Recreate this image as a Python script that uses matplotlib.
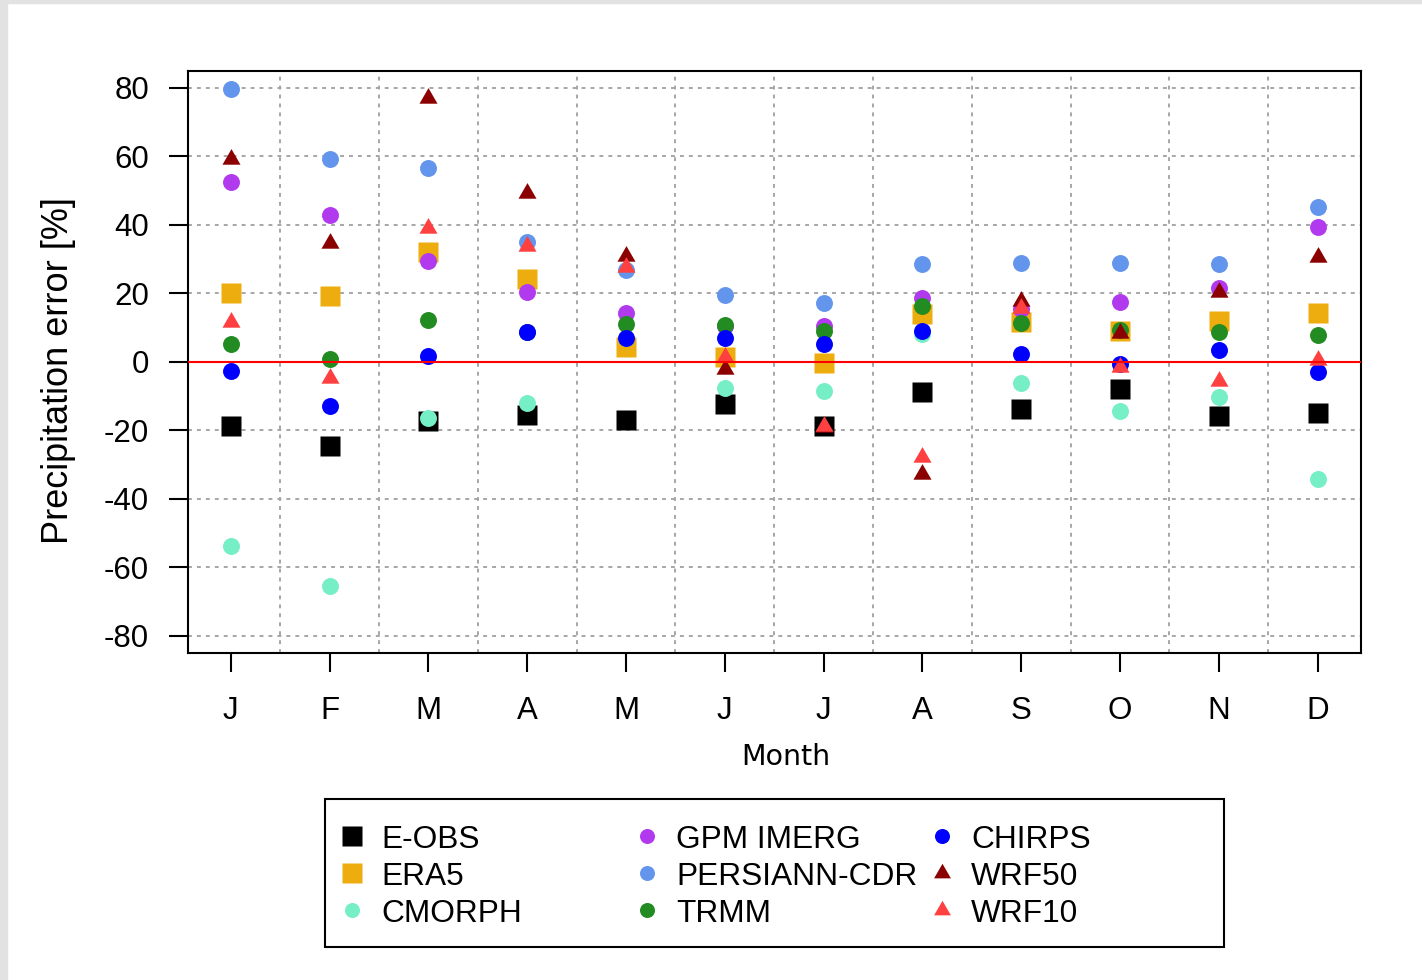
import numpy as np
import matplotlib.pyplot as plt
from matplotlib.patches import Rectangle

plt.rcParams['font.family'] = ['Liberation Sans', 'DejaVu Sans']
plt.rcParams['axes.unicode_minus'] = False

# monthly precipitation error [%] of each product, Jan..Dec
months = ['J', 'F', 'M', 'A', 'M', 'J', 'J', 'A', 'S', 'O', 'N', 'D']

eobs = [-18.8, -24.7, -17.4, -15.6, -17.0, -12.3, -18.7, -8.8, -13.9, -7.9, -15.8, -14.8]
era5 = [20.1, 19.1, 32.0, 24.3, 4.4, 1.3, -0.2, 14.0, 11.5, 9.1, 12.0, 14.4]
cmorph = [-53.8, -65.4, -16.5, -11.9, 7.0, -7.5, -8.5, 8.0, -6.3, -14.3, -10.4, -34.1]
gpm = [52.6, 42.9, 29.5, 20.4, 14.4, 10.5, 10.5, 18.7, 15.5, 17.6, 21.7, 39.5]
persiann = [79.7, 59.2, 56.5, 35.0, 26.9, 19.6, 17.3, 28.5, 28.9, 29.0, 28.5, 45.3]
trmm = [5.3, 0.8, 12.1, 8.8, 11.1, 10.8, 9.1, 16.4, 11.4, 9.3, 8.8, 7.9]
chirps = [-2.6, -12.8, 1.7, 8.7, 7.0, 7.1, 5.2, 9.1, 2.4, -0.5, 3.5, -2.9]
wrf50 = [59.3, 34.8, 76.9, 49.3, 30.8, -2.2, -19.0, -32.6, 17.7, 8.5, 20.3, 30.6]
wrf10 = [11.7, -4.7, 39.1, 33.8, 27.7, 1.4, -18.8, -27.7, 15.6, -1.5, -5.5, 0.5]

names = ['E-OBS', 'ERA5', 'CMORPH', 'GPM IMERG', 'PERSIANN-CDR', 'TRMM', 'CHIRPS', 'WRF50', 'WRF10']
series = [eobs, era5, cmorph, gpm, persiann, trmm, chirps, wrf50, wrf10]

# equilateral triangle centred on its centroid
tri = [(0, 1), (-0.866, -0.5), (0.866, -0.5)]

styles = {
    'E-OBS': ('s', '#000000', 14.8),
    'ERA5': ('s', '#EEAD0E', 14.8),
    'CMORPH': ('o', '#76EEC6', 12.2),
    'GPM IMERG': ('o', '#B23AEE', 12.2),
    'PERSIANN-CDR': ('o', '#6495ED', 12.2),
    'TRMM': ('o', '#228B22', 12.2),
    'CHIRPS': ('o', '#0000FF', 12.2),
    'WRF50': (tri, '#8B0000', 15.0),
    'WRF10': (tri, '#FF4040', 15.0),
}

W, H = 1422, 980
fig = plt.figure(figsize=(W / 100, H / 100), dpi=100)

# thin grey edge along the top and left side
fig.patches.append(Rectangle((0, 1 - 3 / H), 1, 3 / H, transform=fig.transFigure,
                             color='#e2e2e2', zorder=0))
fig.patches.append(Rectangle((0, 0), 7 / W, 1, transform=fig.transFigure,
                             color='#e2e2e2', zorder=0))

ax = fig.add_axes([187.7 / W, 1 - 652.7 / H, (1360.7 - 187.7) / W, (652.7 - 71) / H])

x = np.arange(1, 13)
for name, vals in zip(names, series):
    mk, col, ms = styles[name]
    ax.plot(x, vals, linestyle='none', marker=mk, ms=ms, color=col, mec='none', zorder=3)

ax.axhline(0, color='red', lw=1.5, zorder=4)

ax.set_xlim(0.565, 12.435)
ax.set_ylim(-84.9, 84.9)
ax.set_xticks(x)
ax.set_xticklabels(months)
ax.set_yticks(np.arange(-80, 81, 20))
ax.set_xticks(np.arange(1.5, 12, 1), minor=True)

grid_kw = dict(color='#a6a6a6', lw=1.4, linestyle=(0, (2, 2.6)))
ax.grid(which='minor', axis='x', **grid_kw)
ax.grid(which='major', axis='y', **grid_kw)
ax.set_axisbelow(True)

ax.tick_params(which='major', length=13.7, width=1.5, direction='out', labelsize=22.5, colors='black')
ax.tick_params(which='minor', length=0)
ax.tick_params(axis='y', pad=14.0)
ax.tick_params(axis='x', pad=17.5)
for sp in ax.spines.values():
    sp.set_linewidth(1.5)

fig.text(59 / W, 1 - 370 / H, 'Precipitation error [%]', rotation=90,
         ha='center', va='center', fontsize=26)
fig.text(786 / W, 1 - 765 / H, 'Month', ha='center', va='baseline',
         fontsize=20.5, family='DejaVu Sans')

# legend laid out in pixel units on an overlay
lax = fig.add_axes([0, 0, 1, 1], facecolor='none')
lax.set_xlim(0, W)
lax.set_ylim(H, 0)
lax.axis('off')
lax.add_patch(Rectangle((325, 799), 899, 148, fill=False, ec='black', lw=1.5))

leg_ms = {'s': 15.0, 'o': 10.8}
col_mx = [352, 647, 942]
col_tx = [381, 676, 971]
row_my = [836, 873, 910]
row_base = [847.5, 885, 922]
for i, name in enumerate(names):
    c, r = divmod(i, 3)
    mk, colr, ms = styles[name]
    lms = leg_ms.get(mk, 14.0) if isinstance(mk, str) else 14.0
    lax.plot([col_mx[c]], [row_my[r]], linestyle='none', marker=mk, ms=lms,
             color=colr, mec='none')
    lax.text(col_tx[c], row_base[r], name, fontsize=22.8, va='baseline', ha='left')

fig.savefig('out.png', dpi=100)
